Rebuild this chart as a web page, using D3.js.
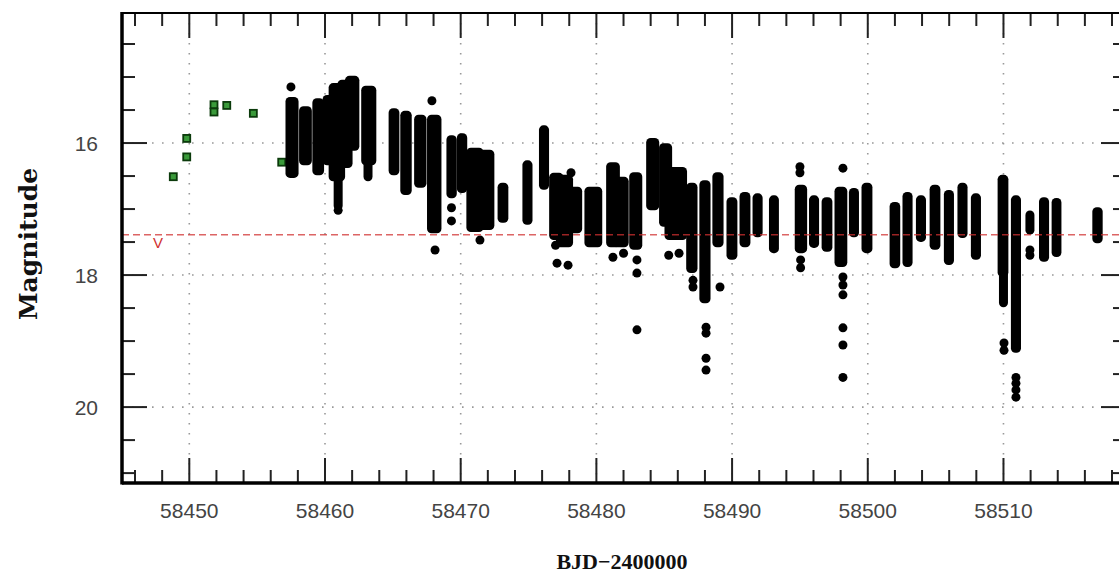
<!DOCTYPE html>
<html>
<head>
<meta charset="utf-8">
<script src="https://cdn.jsdelivr.net/npm/d3@7"></script>
<style>
  body { margin: 0; background: #fff; }
  svg { display: block; }
  .tick-label { font-family: "Liberation Sans", Arial, sans-serif; font-size: 21px; fill: #444; }
  .axis-title { font-family: "Liberation Serif", "DejaVu Serif", serif; font-weight: bold; font-size: 22px; fill: #111; }
  .y-title { font-family: "DejaVu Serif", serif; font-weight: bold; font-size: 25px; fill: #111; }
</style>
</head>
<body>
<svg width="1119" height="588"></svg>
<script>
"use strict";

// photometry runs: [tStart, tEnd, brightest mag, faintest mag]
const runs = [
  [58457.42, 58457.72, 15.37, 16.46],
  [58458.42, 58458.70, 15.51, 16.27],
  [58459.40, 58459.60, 15.39, 16.42],
  [58460.15, 58460.50, 15.34, 16.27],
  [58460.60, 58461.15, 15.16, 16.51],
  [58460.97, 58460.97, 16.50, 16.95],
  [58461.25, 58461.70, 15.11, 16.31],
  [58461.80, 58462.20, 15.05, 16.05],
  [58463.00, 58463.45, 15.20, 16.27],
  [58463.17, 58463.17, 16.20, 16.51],
  [58465.02, 58465.15, 15.54, 16.42],
  [58465.88, 58466.06, 15.58, 16.72],
  [58466.90, 58467.15, 15.64, 16.61],
  [58467.85, 58468.25, 15.64, 17.30],
  [58469.28, 58469.38, 15.95, 16.77],
  [58470.05, 58470.15, 15.92, 16.69],
  [58470.75, 58471.35, 16.14, 17.28],
  [58471.45, 58472.15, 16.17, 17.25],
  [58473.05, 58473.18, 16.67, 17.14],
  [58474.88, 58474.96, 16.33, 17.17],
  [58476.10, 58476.18, 15.80, 16.64],
  [58476.85, 58477.25, 16.52, 17.40],
  [58477.35, 58477.95, 16.55, 17.51],
  [58478.05, 58478.62, 16.73, 17.30],
  [58479.45, 58480.10, 16.73, 17.51],
  [58481.05, 58481.40, 16.36, 17.51],
  [58481.50, 58482.05, 16.58, 17.51],
  [58482.75, 58483.05, 16.51, 17.55],
  [58484.00, 58484.30, 15.99, 16.95],
  [58484.95, 58485.25, 16.07, 17.20],
  [58485.35, 58486.35, 16.43, 17.40],
  [58486.95, 58487.12, 16.67, 17.90],
  [58487.92, 58488.08, 16.63, 18.36],
  [58488.88, 58489.04, 16.51, 17.51],
  [58489.92, 58490.06, 16.89, 17.70],
  [58490.88, 58491.02, 16.81, 17.51],
  [58491.84, 58491.92, 16.83, 17.36],
  [58493.05, 58493.12, 16.86, 17.60],
  [58494.95, 58495.20, 16.70, 17.60],
  [58496.00, 58496.08, 16.86, 17.52],
  [58496.93, 58497.06, 16.89, 17.58],
  [58497.88, 58498.16, 16.73, 17.81],
  [58498.94, 58499.02, 16.75, 17.36],
  [58499.87, 58500.01, 16.67, 17.60],
  [58501.94, 58502.06, 16.96, 17.83],
  [58502.89, 58502.97, 16.81, 17.81],
  [58503.88, 58503.96, 16.86, 17.43],
  [58504.89, 58505.02, 16.70, 17.55],
  [58505.94, 58506.02, 16.78, 17.78],
  [58506.94, 58507.02, 16.67, 17.37],
  [58507.93, 58508.01, 16.83, 17.70],
  [58509.90, 58510.03, 16.55, 17.96],
  [58510.00, 58510.00, 17.90, 18.42],
  [58510.88, 58510.96, 16.86, 19.11],
  [58511.95, 58511.95, 17.09, 17.32],
  [58512.95, 58513.03, 16.89, 17.73],
  [58513.88, 58513.94, 16.90, 17.66],
  [58516.88, 58516.98, 17.04, 17.45]
];

// isolated points outside the dense runs: [t, mag]
const singles = [
  [58457.49, 15.15], [58460.97, 17.02], [58467.88, 15.36], [58468.11, 17.62],
  [58469.32, 16.98], [58469.32, 17.18], [58471.42, 17.47], [58476.99, 17.55],
  [58477.10, 17.82], [58478.13, 16.45], [58477.91, 17.85], [58481.22, 17.73],
  [58482.00, 17.67], [58482.99, 17.77], [58482.99, 17.97], [58482.99, 18.83],
  [58485.33, 17.70], [58486.09, 17.67], [58487.12, 18.08], [58487.12, 18.18],
  [58488.08, 18.79], [58488.08, 18.88], [58488.08, 19.26], [58488.08, 19.44],
  [58489.11, 18.18], [58495.00, 16.36], [58495.00, 16.45], [58495.05, 17.77],
  [58495.05, 17.89], [58498.17, 16.38], [58498.17, 18.03], [58498.17, 18.15],
  [58498.17, 18.30], [58498.17, 18.80], [58498.17, 19.06], [58498.17, 19.55],
  [58510.04, 19.03], [58510.04, 19.14], [58510.92, 19.55], [58510.92, 19.64],
  [58510.92, 19.74], [58510.92, 19.85], [58511.95, 17.62], [58511.95, 17.70]
];

// early points (green squares)
const earlyT = [58448.82, 58449.81, 58449.81, 58451.82, 58451.82, 58452.76, 58454.72, 58456.81];
const earlyMag = [16.51, 16.21, 15.93, 15.42, 15.53, 15.43, 15.55, 16.29];

// V level line
const vLevel = 17.39;
const vLabel = "V";

const xMajor = [58450, 58460, 58470, 58480, 58490, 58500, 58510];
const yMajor = [16, 18, 20];

const margin = { left: 122, top: 13, right: 1126, bottom: 483 };
const svg = d3.select("svg");

const x = d3.scaleLinear().domain([58445.04, 58519.03]).range([margin.left, margin.right]);
const y = d3.scaleLinear().domain([14.03, 21.15]).range([margin.top, margin.bottom]);

const xMinor = d3.range(58446, 58519, 2).filter(d => d % 10 !== 0);
const yMinor = d3.range(14.5, 21.1, 0.5).filter(d => d % 2 !== 0);

// grid lines
svg.append("g").selectAll("line").data(xMajor).join("line")
    .attr("x1", d => x(d)).attr("x2", d => x(d))
    .attr("y1", margin.top).attr("y2", margin.bottom)
    .attr("stroke", "#999").attr("stroke-width", 1.6).attr("stroke-dasharray", "1.6,8.4");
svg.append("g").selectAll("line").data(yMajor).join("line")
    .attr("x1", margin.left).attr("x2", margin.right)
    .attr("y1", d => y(d)).attr("y2", d => y(d))
    .attr("stroke", "#999").attr("stroke-width", 1.6).attr("stroke-dasharray", "1.6,8.4");

// green squares
const sq = 7;
svg.append("g").selectAll("rect").data(earlyT).join("rect")
    .attr("x", (d, i) => x(d) - sq / 2)
    .attr("y", (d, i) => y(earlyMag[i]) - sq / 2)
    .attr("width", sq).attr("height", sq)
    .attr("fill", "#3a9a3a").attr("stroke", "#0b3a0b").attr("stroke-width", 1.8);

// dense runs, each drawn as a rounded column of overlapping dots
const r = 4.5;
const dots = svg.append("g").attr("fill", "#000");
dots.selectAll("rect").data(runs).join("rect")
    .attr("x", d => x(d[0]) - r)
    .attr("width", d => x(d[1]) - x(d[0]) + 2 * r)
    .attr("y", d => y(d[2]) - r)
    .attr("height", d => y(d[3]) - y(d[2]) + 2 * r)
    .attr("rx", r).attr("ry", r);
dots.selectAll("circle").data(singles).join("circle")
    .attr("cx", d => x(d[0])).attr("cy", d => y(d[1])).attr("r", r);

// V level
svg.append("line")
    .attr("x1", margin.left).attr("x2", margin.right)
    .attr("y1", y(vLevel)).attr("y2", y(vLevel))
    .attr("stroke", "#d03030").attr("stroke-opacity", 0.75)
    .attr("stroke-width", 1.6).attr("stroke-dasharray", "7,4");
svg.append("text")
    .attr("x", x(58447.7)).attr("y", y(vLevel) + 13)
    .attr("text-anchor", "middle")
    .attr("font-family", "Liberation Sans, Arial, sans-serif")
    .attr("font-size", 15).attr("fill", "#d03030")
    .text(vLabel);

// ticks (inward, all four sides)
const ticks = svg.append("g").attr("stroke", "#222").attr("stroke-width", 2);
const tick = (x1, y1, x2, y2) => ticks.append("line").attr("x1", x1).attr("y1", y1).attr("x2", x2).attr("y2", y2);
xMajor.forEach(d => { tick(x(d), margin.bottom, x(d), margin.bottom - 25); tick(x(d), margin.top, x(d), margin.top + 25); });
xMinor.forEach(d => { tick(x(d), margin.bottom, x(d), margin.bottom - 13); tick(x(d), margin.top, x(d), margin.top + 13); });
yMajor.forEach(d => { tick(margin.left, y(d), margin.left + 25, y(d)); tick(margin.right, y(d), margin.right - 25, y(d)); });
yMinor.forEach(d => { tick(margin.left, y(d), margin.left + 13, y(d)); tick(margin.right, y(d), margin.right - 13, y(d)); });

// frame
svg.append("line").attr("x1", margin.left).attr("x2", margin.right).attr("y1", margin.top).attr("y2", margin.top)
    .attr("stroke", "#000").attr("stroke-width", 2);
svg.append("line").attr("x1", margin.left).attr("x2", margin.right).attr("y1", margin.bottom).attr("y2", margin.bottom)
    .attr("stroke", "#000").attr("stroke-width", 3.5);
svg.append("line").attr("x1", margin.left).attr("x2", margin.left).attr("y1", margin.top - 1).attr("y2", margin.bottom + 1.5)
    .attr("stroke", "#000").attr("stroke-width", 3.5);
svg.append("line").attr("x1", margin.right).attr("x2", margin.right).attr("y1", margin.top).attr("y2", margin.bottom)
    .attr("stroke", "#000").attr("stroke-width", 3);

// tick labels
svg.append("g").selectAll("text").data(xMajor).join("text")
    .attr("class", "tick-label")
    .attr("x", d => x(d)).attr("y", 518)
    .attr("text-anchor", "middle")
    .text(d => d);
svg.append("g").selectAll("text").data(yMajor).join("text")
    .attr("class", "tick-label")
    .attr("x", 98).attr("y", d => y(d)).attr("dy", "0.36em")
    .attr("text-anchor", "end")
    .text(d => d);

// axis titles
svg.append("text").attr("class", "axis-title")
    .attr("x", 622).attr("y", 569).attr("text-anchor", "middle")
    .text("BJD\u22122400000");
svg.append("text").attr("class", "y-title")
    .attr("transform", "translate(37,244) rotate(-90)")
    .attr("text-anchor", "middle")
    .text("Magnitude");
</script>
</body>
</html>
